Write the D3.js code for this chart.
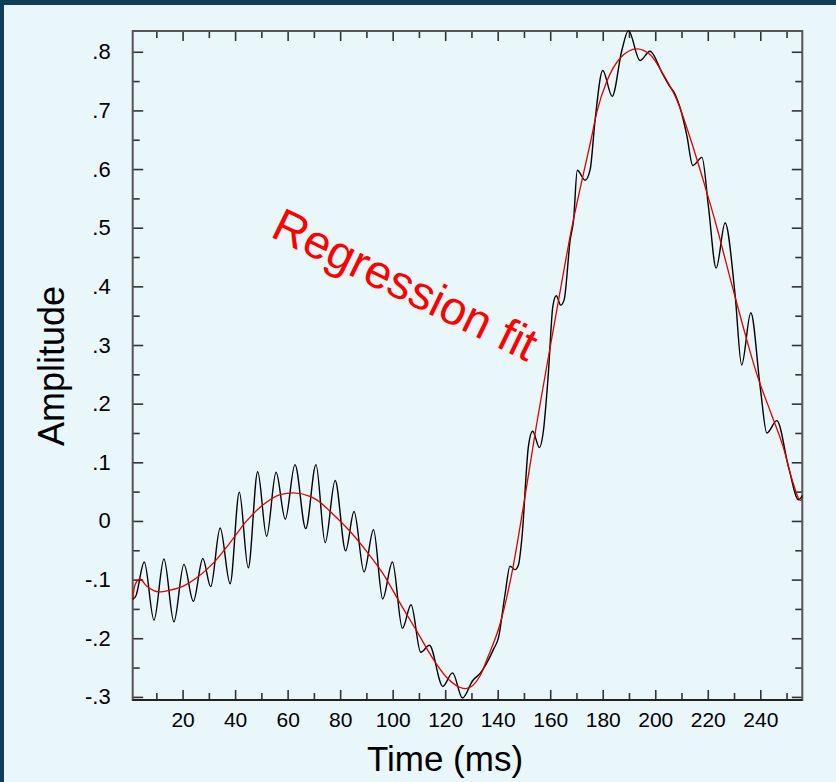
<!DOCTYPE html>
<html><head><meta charset="utf-8">
<script src="https://cdn.jsdelivr.net/npm/d3@7"></script>
<style>html,body{margin:0;padding:0;background:#0f3f58;}svg{display:block;}</style>
</head><body>
<svg id="c" width="836" height="782"></svg>
<script>
// ---- data ----
const signalTime = [1,2.2,5.4,9.1,12.9,16.7,20.5,24.1,27.7,30.7,34.3,38.1,41.6,45.0,48.6,52.0,55.6,59.1,62.8,66.9,70.8,74.3,78.1,82.1,85.3,89.1,92.7,96.2,99.9,103.7,107.0,110.7,114.0,119.1,122.8,126.6,130.5,133.3,138.4,140.3,142.8,144.7,146.6,147.9,149.2,151.7,153.3,155.9,157.3,159.3,161.0,162.3,164.0,165.3,167.6,168.9,170.3,173.3,175.2,177.1,180.0,183.6,187.3,189.8,194.2,198.0,202.5,205.2,207.5,209.5,212.0,214.3,217.8,220.3,223.2,226.6,230.4,232.9,236.4,240.0,242.5,246.3,250.8,254.6,256];
const signalAmp = [-0.134,-0.128,-0.070,-0.169,-0.065,-0.172,-0.074,-0.137,-0.064,-0.112,-0.012,-0.107,0.049,-0.080,0.084,-0.026,0.083,0.003,0.096,-0.013,0.096,-0.037,0.069,-0.051,0.016,-0.087,-0.015,-0.133,-0.070,-0.183,-0.143,-0.224,-0.212,-0.282,-0.259,-0.302,-0.272,-0.260,-0.219,-0.199,-0.125,-0.077,-0.083,-0.075,-0.030,0.127,0.153,0.125,0.150,0.252,0.366,0.384,0.368,0.377,0.479,0.513,0.598,0.581,0.599,0.684,0.768,0.724,0.803,0.836,0.785,0.801,0.765,0.743,0.728,0.704,0.658,0.606,0.620,0.534,0.431,0.508,0.386,0.266,0.355,0.227,0.150,0.171,0.091,0.036,0.043];

const fitTime = [1,1.8,3.7,6.3,11.0,15.2,20.3,25.4,31.7,38.1,44.4,50.8,57.1,62.2,68.5,71.1,77.4,83.8,90.1,96.5,102.8,109.2,115.5,120.6,125.7,127.8,133.3,135.9,141,145.4,149.8,154.9,160,165,167.3,171.3,175.4,177.8,181.6,186.6,193,198.1,203.1,208.2,213.3,218.4,223.5,228.5,233.6,238.7,243.8,248.8,252.7,255.2,256];
const fitAmp = [-0.133,-0.110,-0.099,-0.111,-0.121,-0.118,-0.111,-0.097,-0.072,-0.037,0.000,0.028,0.045,0.048,0.042,0.036,0.011,-0.018,-0.052,-0.091,-0.140,-0.188,-0.236,-0.267,-0.284,-0.286,-0.264,-0.236,-0.174,-0.089,0.025,0.167,0.297,0.422,0.479,0.565,0.647,0.698,0.750,0.789,0.805,0.795,0.761,0.718,0.653,0.579,0.500,0.414,0.329,0.250,0.187,0.125,0.062,0.035,0.038];

const xMajorTicks = [20,40,60,80,100,120,140,160,180,200,220,240];
const xMinorTicks = [10,30,50,70,90,110,130,150,170,190,210,230,250];
const yMajorTicks = [-0.3,-0.2,-0.1,0,0.1,0.2,0.3,0.4,0.5,0.6,0.7,0.8];
const yMajorLabels = ["-.3","-.2","-.1","0",".1",".2",".3",".4",".5",".6",".7",".8"];
const yMinorTicks = [-0.25,-0.15,-0.05,0.05,0.15,0.25,0.35,0.45,0.55,0.65,0.75];
const xTitle = "Time (ms)";
const yTitle = "Amplitude";
const annotation = "Regression fit";

// ---- drawing ----
const svg = d3.select("#c");
svg.append("rect").attr("x",4).attr("y",5).attr("width",832).attr("height",777).attr("fill","#e9f6fa");

const L = 132.7, R = 802.3, T = 31, B = 700;
const x = d3.scaleLinear().domain([1,256]).range([L,R]);
const y = d3.scaleLinear().domain([-0.3053,0.8354]).range([B,T]);

const font = "'Liberation Sans', Arial, Helvetica, sans-serif";
const tickCol = "#333";

function styleAxis(g){
  g.select(".domain").remove();
  g.selectAll(".tick line").attr("stroke",tickCol).attr("stroke-width",1.6);
  g.selectAll("text").attr("fill","#000").style("font-family",font);
}

// bottom
svg.append("g").attr("transform",`translate(0,${B})`)
  .call(d3.axisBottom(x).tickValues(xMinorTicks).tickSize(-7).tickFormat(""))
  .call(styleAxis);
svg.append("g").attr("transform",`translate(0,${B})`)
  .call(d3.axisBottom(x).tickValues(xMajorTicks).tickSize(-10).tickPadding(12).tickFormat(d=>String(d)))
  .call(styleAxis)
  .selectAll("text").style("font-size","21px");
// top
svg.append("g").attr("transform",`translate(0,${T})`)
  .call(d3.axisTop(x).tickValues(xMinorTicks).tickSize(-7).tickFormat(""))
  .call(styleAxis);
svg.append("g").attr("transform",`translate(0,${T})`)
  .call(d3.axisTop(x).tickValues(xMajorTicks).tickSize(-10).tickFormat(""))
  .call(styleAxis);
// left
svg.append("g").attr("transform",`translate(${L},0)`)
  .call(d3.axisLeft(y).tickValues(yMinorTicks).tickSize(-7).tickFormat(""))
  .call(styleAxis);
svg.append("g").attr("transform",`translate(${L},0)`)
  .call(d3.axisLeft(y).tickValues(yMajorTicks).tickSize(-10.5).tickPadding(22)
        .tickFormat((d,i)=>yMajorLabels[i]))
  .call(styleAxis)
  .selectAll("text").style("font-size","22px");
// right
svg.append("g").attr("transform",`translate(${R},0)`)
  .call(d3.axisRight(y).tickValues(yMinorTicks).tickSize(-7).tickFormat(""))
  .call(styleAxis);
svg.append("g").attr("transform",`translate(${R},0)`)
  .call(d3.axisRight(y).tickValues(yMajorTicks).tickSize(-10.5).tickFormat(""))
  .call(styleAxis);

// frame
svg.append("rect").attr("x",L).attr("y",T).attr("width",R-L).attr("height",B-T)
  .attr("fill","none").attr("stroke","#555").attr("stroke-width",2);
svg.append("line").attr("x1",L).attr("x2",R).attr("y1",B).attr("y2",B)
  .attr("stroke","#222").attr("stroke-width",2);

// lines
const lineGen = d3.line().x(d=>x(d[0])).y(d=>y(d[1])).curve(d3.curveMonotoneX);
const sig = signalTime.map((t,i)=>[t,signalAmp[i]]);
const fit = fitTime.map((t,i)=>[t,fitAmp[i]]);
svg.append("path").attr("d",lineGen(sig)).attr("fill","none")
  .attr("stroke","#000").attr("stroke-width",1.4).attr("stroke-linejoin","round");
svg.append("path").attr("d",lineGen(fit)).attr("fill","none")
  .attr("stroke","#e00000").attr("stroke-width",1.3);

// titles
svg.append("text").attr("x",445).attr("y",771).attr("text-anchor","middle")
  .style("font-family",font).style("font-size","35px").attr("fill","#000").text(xTitle);
svg.append("text").attr("transform","translate(64,366) rotate(-90)").attr("text-anchor","middle")
  .style("font-family",font).style("font-size","36px").attr("fill","#000").text(yTitle);
svg.append("text").attr("transform","translate(269,236) rotate(26)")
  .style("font-family",font).style("font-size","47px").attr("fill","#ff0000").text(annotation);
</script>
</body></html>
